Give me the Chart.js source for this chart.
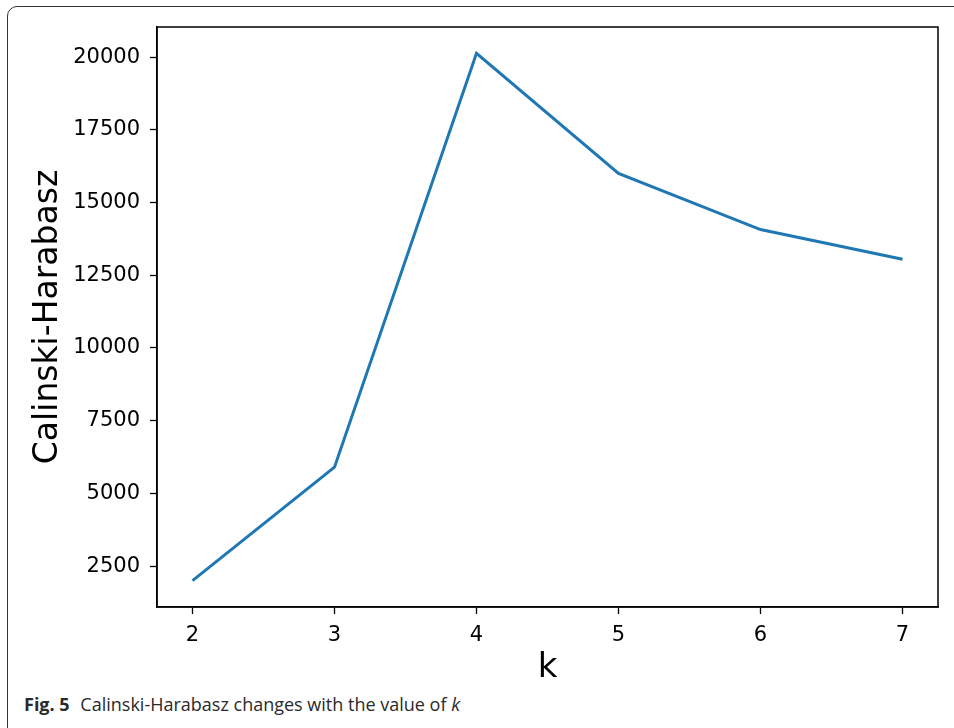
<!DOCTYPE html>
<html>
<head>
<meta charset="utf-8">
<script src="https://cdn.jsdelivr.net/npm/chart.js@4.4.1/dist/chart.umd.min.js"></script>
<style>
    html, body { margin: 0; padding: 0; background: #fff; }
    body { width: 954px; height: 728px; position: relative; overflow: hidden; }
    #frame {
        position: absolute; left: 7px; top: 6px; width: 1000px; height: 800px;
        border: 1.5px solid #333; border-radius: 10px; box-sizing: border-box;
    }
    #wrap { position: absolute; left: 0; top: 0; width: 954px; height: 690px; }
    #caption {
        position: absolute; left: 24px; top: 692px;
        font-family: "Open Sans", "Noto Sans", sans-serif; font-size: 18px;
        color: #2a2a2a; white-space: nowrap;
    }
    #caption b { font-weight: 700; margin-right: 6px; }
</style>
</head>
<body>
<div id="frame"></div>
<div id="wrap"><canvas id="myChart" width="954" height="690"></canvas></div>
<div id="caption"><b>Fig. 5</b> Calinski-Harabasz changes with the value of <i>k</i></div>
<script>
// values
var kValues = [2, 3, 4, 5, 6, 7];
var chScores = [2000, 5900, 20130, 16000, 14070, 13050];
var yTickValues = [2500, 5000, 7500, 10000, 12500, 15000, 17500, 20000];

// black box around the plot area, like matplotlib spines
var plotBox = {
    id: 'plotBox',
    afterDraw: function (chart) {
        var a = chart.chartArea;
        var ctx = chart.ctx;
        ctx.save();
        ctx.strokeStyle = '#000';
        ctx.lineWidth = 1.5;
        ctx.strokeRect(a.left, a.top, a.right - a.left, a.bottom - a.top);
        ctx.restore();
    }
};

var ctx = document.getElementById('myChart').getContext('2d');
var myChart = new Chart(ctx, {
    type: 'line',
    data: {
        datasets: [{
            label: 'Calinski-Harabasz',
            data: kValues.map(function (k, i) { return { x: k, y: chScores[i] }; }),
            borderColor: '#1f77b4',
            borderWidth: 3,
            pointRadius: 0,
            fill: false,
            tension: 0
        }]
    },
    plugins: [plotBox],
    options: {
        responsive: false,
        animation: false,
        layout: { padding: { top: 27, right: 16, left: 0, bottom: 0 } },
        plugins: {
            legend: { display: false },
            tooltip: { enabled: false }
        },
        scales: {
            x: {
                type: 'linear',
                min: 1.75,
                max: 7.25,
                afterBuildTicks: function (scale) {
                    scale.ticks = kValues.map(function (v) { return { value: v }; });
                },
                afterFit: function (scale) { scale.height = 83; },
                grid: { drawOnChartArea: false, drawTicks: true, tickLength: 7, tickColor: '#000', tickWidth: 1.3 },
                border: { display: true, color: '#000', width: 1.5 },
                ticks: {
                    color: '#000', padding: 9, maxRotation: 0,
                    font: { family: 'DejaVu Sans', size: 21 }
                },
                title: {
                    display: true, text: 'k', color: '#000',
                    font: { family: 'DejaVu Sans', size: 34, lineHeight: 1 },
                    padding: { top: 0, bottom: 5 }
                }
            },
            y: {
                min: 1093,
                max: 21036,
                afterBuildTicks: function (scale) {
                    scale.ticks = yTickValues.map(function (v) { return { value: v }; });
                },
                afterFit: function (scale) { scale.width = 157; },
                grid: { drawOnChartArea: false, drawTicks: true, tickLength: 7, tickColor: '#000', tickWidth: 1.3 },
                border: { display: true, color: '#000', width: 1.5 },
                ticks: {
                    color: '#000', padding: 10,
                    font: { family: 'DejaVu Sans', size: 21 },
                    callback: function (v) { return String(v); }
                },
                title: {
                    display: true, text: 'Calinski-Harabasz', color: '#000',
                    font: { family: 'DejaVu Sans', size: 33, lineHeight: 1 },
                    padding: { top: 32, bottom: 0 }
                }
            }
        }
    }
});
</script>
</body>
</html>
